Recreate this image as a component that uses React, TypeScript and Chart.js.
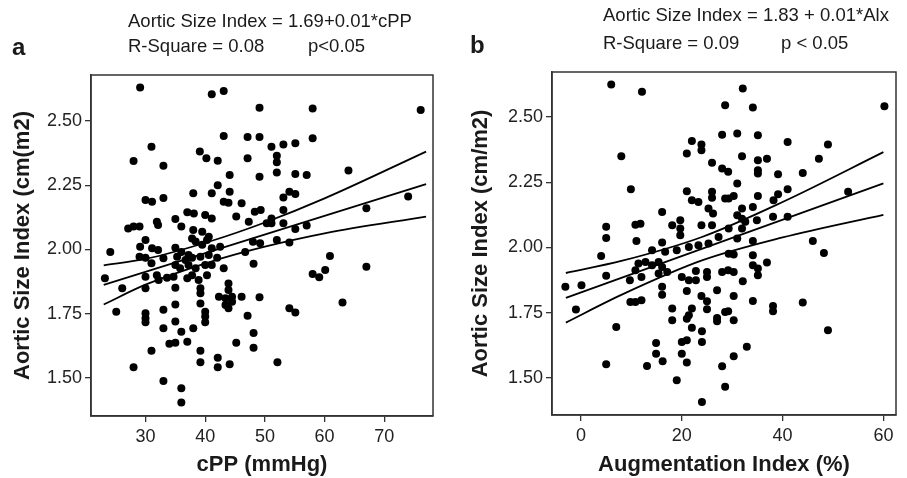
import React, { useEffect, useRef } from "react";
import { Chart, registerables } from "chart.js";

Chart.register(...registerables);

// ---------- Panel a: cPP vs Aortic Size Index ----------
const cppX = [
  29.1, 41.1, 43.1, 49.1, 31.0, 28.0, 33.0, 43.1, 47.1, 49.1, 39.1, 40.2, 42.1, 47.1, 44.1, 49.1, 42.1, 38.0, 41.1, 44.1,
  30.0, 31.1, 33.0, 43.1, 43.9, 46.1, 37.0, 38.1, 40.0, 41.1, 45.2, 48.3, 49.3, 31.9, 32.1, 35.0, 36.0, 27.1, 28.0, 29.0,
  38.0, 39.5, 40.6, 30.0, 37.8, 47.3, 24.1, 29.1, 31.1, 32.1, 35.0, 36.0, 37.2, 38.4, 39.5, 41.1, 42.5, 40.3, 29.0, 30.0,
  33.0, 35.3, 36.7, 37.8, 39.2, 40.6, 42.0, 31.0, 35.0, 35.8, 37.2, 38.4, 40.0, 41.1, 43.1, 23.2, 30.0, 31.9, 32.2, 33.6,
  34.7, 37.0, 37.8, 38.9, 40.3, 26.1, 30.0, 35.0, 39.2, 39.2, 43.9, 43.9, 42.3, 43.4, 44.5, 46.1, 43.4, 43.9, 44.5, 48.1,
  49.1, 25.1, 30.0, 30.0, 30.0, 33.0, 35.0, 39.2, 40.0, 40.0, 40.0, 47.1, 33.0, 35.0, 36.0, 38.0, 34.0, 35.0, 37.0, 31.0,
  39.2, 39.2, 42.1, 42.1, 44.1, 45.2, 48.1, 48.1, 28.0, 33.0, 36.0, 36.0, 46.7, 48.0,
  58.0, 76.1, 58.0, 51.1, 53.1, 55.1, 52.0, 52.0, 52.0, 55.1, 57.0, 64.0, 53.1, 54.1, 55.1, 53.1, 51.1, 50.3, 51.1, 53.1,
  55.1, 57.0, 52.0, 54.1, 49.2, 74.0, 67.0, 60.9, 60.1, 58.0, 59.1, 67.0, 63.0, 54.1, 55.1, 52.1,
];
const cppY = [
  2.63, 2.604, 2.617, 2.552, 2.40, 2.344, 2.326, 2.442, 2.438, 2.438, 2.381, 2.355, 2.345, 2.355, 2.29, 2.283, 2.25, 2.219, 2.219, 2.225,
  2.193, 2.186, 2.20, 2.186, 2.182, 2.18, 2.145, 2.14, 2.134, 2.121, 2.128, 2.147, 2.154, 2.108, 2.095, 2.119, 2.089, 2.082, 2.089, 2.089,
  2.076, 2.069, 2.05, 2.037, 2.043, 2.108, 1.99, 2.011, 2.005, 1.998, 2.007, 1.99, 1.979, 2.031, 2.018, 2.005, 2.011, 2.037, 1.972, 1.968,
  1.966, 1.972, 1.959, 1.968, 1.972, 1.979, 1.968, 1.946, 1.94, 1.927, 1.94, 1.927, 1.94, 1.94, 1.927, 1.888, 1.894, 1.90, 1.881, 1.89,
  1.894, 1.888, 1.90, 1.881, 1.90, 1.849, 1.849, 1.851, 1.849, 1.83, 1.868, 1.842, 1.816, 1.81, 1.816, 1.816, 1.784, 1.771, 1.797, 1.944,
  1.814, 1.758, 1.752, 1.732, 1.717, 1.765, 1.786, 1.79, 1.758, 1.739, 1.717, 1.742, 1.693, 1.72, 1.68, 1.693, 1.633, 1.637, 1.641, 1.606,
  1.606, 1.561, 1.579, 1.542, 1.553, 1.637, 1.675, 1.618, 1.542, 1.488, 1.46, 1.405, 1.99, 2.03,
  2.549, 2.543, 2.433, 2.40, 2.409, 2.413, 2.365, 2.339, 2.30, 2.294, 2.29, 2.307, 2.202, 2.225, 2.216, 2.154, 2.121, 2.102, 2.102, 2.102,
  2.08, 2.093, 2.037, 2.027, 2.024, 2.206, 2.16, 1.975, 1.92, 1.905, 1.892, 1.933, 1.794, 1.771, 1.755, 1.561,
];
const fitAX = [23, 77];
const fitAY = [1.862, 2.254];
const ciAX = [23, 30, 41, 50, 60, 77];
const upperAY = [1.938, 1.963, 2.033, 2.105, 2.199, 2.381];
const lowerAY = [1.786, 1.863, 1.953, 2.011, 2.063, 2.128];
const cppTicks = [30, 40, 50, 60, 70];

// ---------- Panel b: Augmentation Index vs Aortic Size Index ----------
const aixX = [
  6.0, 12.1, 8.0, 9.9, 22.0, 23.9, 23.9, 21.0, 28.6, 28.0, 26.0, 28.0, 21.0, 22.0, 23.3, 26.0, 26.0, 25.3, 26.2, 28.6,
  16.1, 18.1, 19.7, 19.7, 19.7, 23.9, 26.0, 10.8, 11.8, 5.0, 5.0, 11.0, 4.0, 14.1, 16.1, 16.7, 19.0, 21.4, 23.3, 25.3,
  27.3, 11.4, 10.8, 12.8, 14.1, 15.4, 16.1, 17.1, 15.4, 9.7, 12.0, -3.1, 0.1, 5.0, 20.0, 21.4, 22.8, 22.8, 25.0, 25.0,
  28.0, 16.1, 16.1, 21.0, 23.9, 25.0, 27.0, 25.0, 9.8, 10.8, 12.0, -1.0, 18.1, 18.1, 21.0, 22.0, 21.4, 27.0, 27.0, 28.6,
  7.0, 22.0, 24.0, 14.9, 14.9, 20.0, 21.0, 20.0, 24.0, 16.2, 5.0, 13.1, 21.0, 19.0, 28.0, 28.6, 24.0,
  32.1, 34.1, 60.2, 31.0, 35.1, 41.0, 49.0, 31.95, 35.1, 36.9, 47.2, 29.2, 35.1, 35.1, 39.1, 44.0, 31.0, 29.3, 30.3, 35.1,
  38.2, 39.1, 41.0, 53.0, 31.95, 34.1, 31.0, 31.95, 32.6, 34.9, 38.1, 41.0, 31.95, 29.3, 31.0, 34.1, 46.0, 48.2, 29.3, 30.3,
  34.1, 29.2, 30.3, 34.1, 35.1, 35.1, 36.9, 32.1, 30.3, 34.1, 38.1, 38.1, 44.0, 29.2, 30.3, 49.0, 32.9, 30.3,
];
const aixY = [
  2.624, 2.596, 2.349, 2.223, 2.408, 2.394, 2.372, 2.36, 2.545, 2.432, 2.324, 2.302, 2.215, 2.181, 2.174, 2.213, 2.19, 2.149, 2.13, 2.187,
  2.136, 2.085, 2.104, 2.072, 2.047, 2.085, 2.085, 2.087, 2.091, 2.079, 2.036, 2.025, 1.967, 1.989, 2.019, 1.983, 1.989, 2.002, 2.008, 2.015,
  2.04, 1.938, 1.913, 1.944, 1.932, 1.944, 1.925, 1.906, 1.90, 1.874, 1.887, 1.849, 1.855, 1.891, 1.887, 1.874, 1.91, 1.874, 1.906, 1.887,
  1.906, 1.849, 1.819, 1.833, 1.814, 1.794, 1.836, 1.763, 1.791, 1.791, 1.798, 1.762, 1.766, 1.721, 1.727, 1.766, 1.74, 1.73, 1.717, 1.753,
  1.695, 1.692, 1.679, 1.634, 1.593, 1.638, 1.644, 1.593, 1.638, 1.564, 1.552, 1.546, 1.559, 1.491, 1.545, 1.466, 1.408,
  2.609, 2.536, 2.541, 2.436, 2.43, 2.404, 2.394, 2.349, 2.334, 2.34, 2.34, 2.29, 2.296, 2.283, 2.28, 2.285, 2.245, 2.187, 2.197, 2.197,
  2.181, 2.204, 2.223, 2.213, 2.149, 2.155, 2.123, 2.11, 2.098, 2.104, 2.117, 2.117, 2.072, 2.072, 2.034, 2.025, 2.025, 1.979, 1.976, 1.973,
  1.97, 1.913, 1.906, 1.932, 1.919, 1.893, 1.942, 1.87, 1.814, 1.795, 1.776, 1.755, 1.789, 1.755, 1.721, 1.683, 1.619, 1.583,
];
const fitBX = [-3, 60];
const fitBY = [1.807, 2.245];
const ciBX = [-3, 8, 24, 40, 60];
const upperBY = [1.902, 1.948, 2.04, 2.174, 2.365];
const lowerBY = [1.712, 1.818, 1.95, 2.038, 2.125];
const aixTicks = [0, 20, 40, 60];

const yTicks = [1.5, 1.75, 2.0, 2.25, 2.5];

const FONT = "'Liberation Sans', Arial, Helvetica, sans-serif";

const pts = (xs: number[], ys: number[]) => xs.map((x, i) => ({ x, y: ys[i] }));

const framePlugin = {
  id: "frame",
  afterDraw(chart: any) {
    const { ctx, chartArea: a } = chart;
    ctx.save();
    ctx.strokeStyle = "#333";
    ctx.lineWidth = 1.5;
    ctx.strokeRect(a.left, a.top, a.right - a.left, a.bottom - a.top);
    ctx.restore();
  },
};

type PanelProps = {
  left: number;
  width: number;
  padTop: number;
  padRight: number;
  yAxisWidth: number;
  xAxisHeight: number;
  xMin: number;
  xMax: number;
  yMin: number;
  yMax: number;
  xTicks: number[];
  xTitle: string;
  yTitle: string;
  yTitlePad: number;
  xs: number[];
  ys: number[];
  fitX: number[];
  fitY: number[];
  ciX: number[];
  upY: number[];
  loY: number[];
};

function Panel(p: PanelProps) {
  const ref = useRef<HTMLCanvasElement | null>(null);
  useEffect(() => {
    if (!ref.current) return;
    const lineDs = (data: any[]) => ({
      type: "line" as const,
      data,
      borderColor: "#000",
      borderWidth: 1.8,
      pointRadius: 0,
      fill: false,
      cubicInterpolationMode: "monotone" as const,
      order: 0,
    });
    const chart = new Chart(ref.current, {
      type: "scatter",
      data: {
        datasets: [
          {
            type: "scatter",
            data: pts(p.xs, p.ys),
            pointRadius: 4,
            pointHoverRadius: 4,
            backgroundColor: "#000",
            borderWidth: 0,
            order: 1,
          } as any,
          lineDs(pts(p.fitX, p.fitY)),
          lineDs(pts(p.ciX, p.upY)),
          lineDs(pts(p.ciX, p.loY)),
        ],
      },
      options: {
        animation: false,
        responsive: false,
        maintainAspectRatio: false,
        events: [],
        layout: { padding: { top: p.padTop, right: p.padRight, left: 0, bottom: 0 } },
        plugins: { legend: { display: false }, tooltip: { enabled: false } },
        scales: {
          x: {
            type: "linear",
            min: p.xMin,
            max: p.xMax,
            afterBuildTicks: (s: any) => {
              s.ticks = p.xTicks.map((v) => ({ value: v }));
            },
            afterFit: (s: any) => {
              s.height = p.xAxisHeight;
            },
            grid: { display: true, drawOnChartArea: false, drawTicks: true, tickLength: 6, color: "#333", lineWidth: 1.3 },
            border: { display: true, color: "#333", width: 1.5 },
            ticks: { font: { family: FONT, size: 18 }, color: "#222", padding: 4, maxRotation: 0, callback: (v: any) => String(v) },
            title: {
              display: true,
              text: p.xTitle,
              font: { family: FONT, size: 22, weight: "bold" },
              color: "#1a1a1a",
              padding: { top: 0, bottom: 0 },
            },
          },
          y: {
            type: "linear",
            min: p.yMin,
            max: p.yMax,
            afterBuildTicks: (s: any) => {
              s.ticks = yTicks.map((v) => ({ value: v }));
            },
            afterFit: (s: any) => {
              s.width = p.yAxisWidth;
            },
            grid: { display: true, drawOnChartArea: false, drawTicks: true, tickLength: 6, color: "#333", lineWidth: 1.3 },
            border: { display: true, color: "#333", width: 1.5 },
            ticks: { font: { family: FONT, size: 18 }, color: "#222", padding: 3, callback: (v: any) => Number(v).toFixed(2) },
            title: {
              display: true,
              text: p.yTitle,
              font: { family: FONT, size: 22, weight: "bold" },
              color: "#1a1a1a",
              padding: { top: p.yTitlePad, bottom: 0 },
            },
          },
        },
      },
      plugins: [framePlugin],
    } as any);
    return () => chart.destroy();
  }, []);
  return (
    <canvas
      ref={ref}
      width={p.width}
      height={478}
      style={{ position: "absolute", left: p.left, top: 0, width: p.width, height: 478 }}
    />
  );
}

const textStyle = (left: number, baseline: number, size: number, bold = false): React.CSSProperties => ({
  position: "absolute",
  left,
  top: baseline - 0.8465 * size,
  fontFamily: FONT,
  fontSize: size,
  lineHeight: 1,
  fontWeight: bold ? "bold" : "normal",
  color: "#1a1a1a",
  whiteSpace: "pre",
});

export default function App() {
  return (
    <div style={{ position: "absolute", left: 0, top: 0, width: 907, height: 478, background: "#fff", overflow: "hidden" }}>
      <Panel
        left={0}
        width={453}
        padTop={75}
        padRight={20}
        yAxisWidth={91}
        xAxisHeight={62}
        xMin={20.87}
        xMax={78.16}
        yMin={1.352}
        yMax={2.679}
        xTicks={cppTicks}
        xTitle="cPP (mmHg)"
        yTitle="Aortic Size Index (cm(m2)"
        yTitlePad={10}
        xs={cppX}
        ys={cppY}
        fitX={fitAX}
        fitY={fitAY}
        ciX={ciAX}
        upY={upperAY}
        loY={lowerAY}
      />
      <Panel
        left={453}
        width={454}
        padTop={72}
        padRight={11}
        yAxisWidth={99}
        xAxisHeight={63}
        xMin={-5.75}
        xMax={62.5}
        yMin={1.358}
        yMax={2.672}
        xTicks={aixTicks}
        xTitle="Augmentation Index (%)"
        yTitle="Aortic Size Index (cm/m2)"
        yTitlePad={15}
        xs={aixX}
        ys={aixY}
        fitX={fitBX}
        fitY={fitBY}
        ciX={ciBX}
        upY={upperBY}
        loY={lowerBY}
      />
      <div style={textStyle(12, 55, 24, true)}>a</div>
      <div style={textStyle(128, 28, 18.5)}>Aortic Size Index = 1.69+0.01*cPP</div>
      <div style={textStyle(128, 53, 18.5)}>R-Square = 0.08</div>
      <div style={textStyle(308, 53, 18.5)}>p&lt;0.05</div>
      <div style={textStyle(470, 53, 24, true)}>b</div>
      <div style={textStyle(603, 22, 18.5)}>Aortic Size Index = 1.83 + 0.01*Alx</div>
      <div style={textStyle(603, 50, 18.5)}>R-Square = 0.09</div>
      <div style={textStyle(781, 50, 18.5)}>p &lt; 0.05</div>
    </div>
  );
}
